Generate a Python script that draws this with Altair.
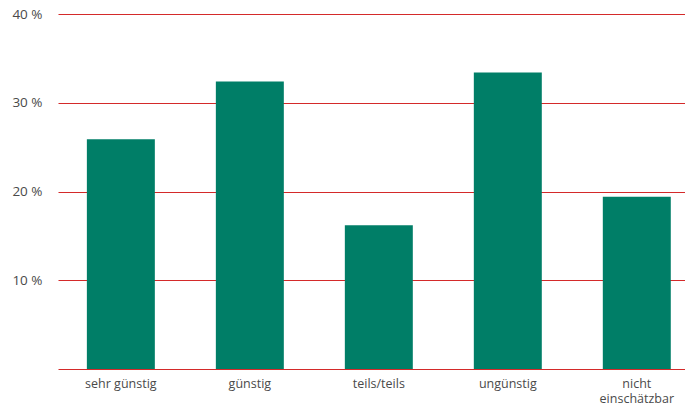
import altair as alt
import pandas as pd

categories = ["sehr günstig", "günstig", "teils/teils", "ungünstig", "nicht einschätzbar"]
values = [25.9, 32.4, 16.2, 33.4, 19.4]
y_ticks = [0, 10, 20, 30, 40]

df = pd.DataFrame({"cat": categories, "val": values})

chart = alt.Chart(df).mark_bar(color="#007e67").encode(
    x=alt.X(
        "cat:N",
        sort=categories,
        title=None,
        scale=alt.Scale(paddingInner=0.473, paddingOuter=0.167, align=0.67),
        axis=alt.Axis(
            labelAngle=0,
            domain=False,
            ticks=False,
            grid=False,
            labelFont="Open Sans",
            labelFontSize=12.5,
            labelColor="#4a4a4a",
            labelPadding=8,
            labelLineHeight=15.5,
            labelExpr="datum.value == 'nicht einschätzbar' ? ['nicht', 'einschätzbar'] : datum.value",
        ),
    ),
    y=alt.Y(
        "val:Q",
        title=None,
        scale=alt.Scale(domain=[0, 40], nice=False),
        axis=alt.Axis(
            values=y_ticks,
            grid=True,
            gridColor="#d42a2a",
            gridWidth=1.2,
            gridOpacity=1,
            domain=False,
            ticks=False,
            labelFont="Open Sans",
            labelFontSize=13.5,
            labelColor="#4a4a4a",
            labelPadding=16,
            labelExpr="datum.value == 0 ? '' : datum.value + ' %'",
        ),
    ),
).properties(
    width=627,
    height=355,
    background="white",
    autosize=alt.AutoSizeParams(type="none"),
    padding={"left": 58, "top": 14, "right": 0, "bottom": 42},
).configure_view(strokeWidth=0, stroke="transparent")

chart.save("out.html", embed_options={"renderer": "svg", "actions": False})
